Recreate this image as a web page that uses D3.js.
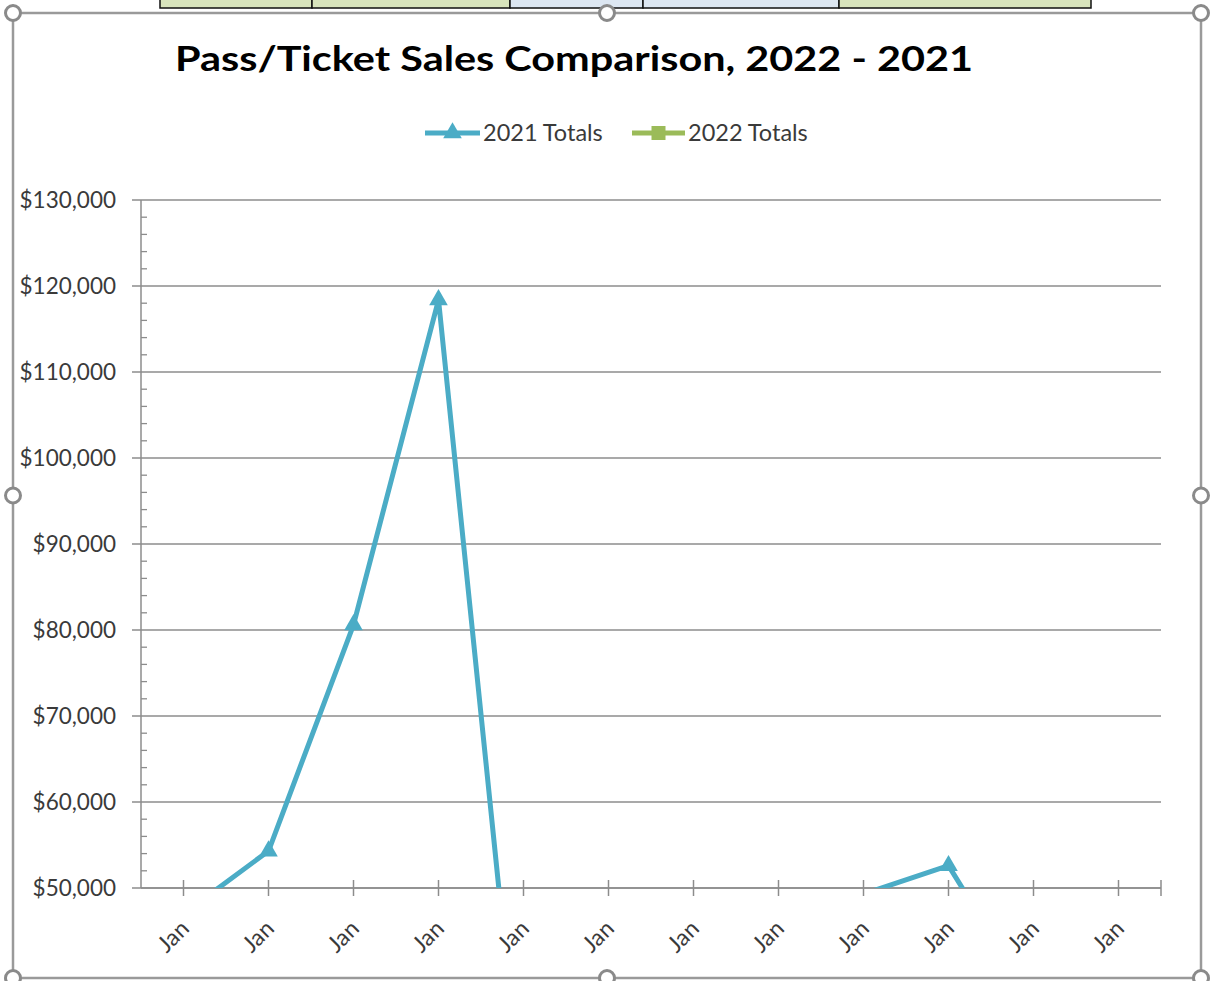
<!DOCTYPE html>
<html><head><meta charset="utf-8">
<script src="https://cdn.jsdelivr.net/npm/d3@7"></script>
<style>body{margin:0;background:#fff} svg{display:block}</style>
</head><body>
<svg id="c" width="1213" height="981"></svg>
<script>
// ---- data ----
const categories = ["Jan","Jan","Jan","Jan","Jan","Jan","Jan","Jan","Jan","Jan","Jan","Jan"];
const sales2021 = [47000, 54300, 80600, 118400, 22000, 15000, 12000, 14000, 49300, 52600, 36600, 30000];
const sales2022 = [21000, 26000, 31000, 28000, 19000, 14000, 11000, 13000, 24000, 30000, 25000, 22000];
const seriesNames = ["2021 Totals", "2022 Totals"];
const yTicks = [50000, 60000, 70000, 80000, 90000, 100000, 110000, 120000, 130000];
const titleText = "Pass/Ticket Sales Comparison, 2022 - 2021";
const sheetCells = [[160,312,"#d8e4bc"],[312,510,"#d8e4bc"],[510,643,"#dce6f1"],[643,839,"#dce6f1"],[839,1091,"#d8e4bc"]];

const svg = d3.select("#c");
const FONT = "Lato, 'Open Sans', sans-serif";
const plot = {l:141, r:1161, t:200, b:888};
const gridCol = "#8c8c8c";
const blue = "#4bacc6", green = "#9bbb59";
const yMin = 50000, yMax = 130000;

// spreadsheet cells above the chart
svg.selectAll("rect.cell").data(sheetCells).join("rect")
  .attr("x", d => d[0]).attr("y", -2).attr("width", d => d[1]-d[0]).attr("height", 10)
  .attr("fill", d => d[2]).attr("stroke", "#111").attr("stroke-width", 1.5);

// scales
const x = d3.scaleLinear().domain([-0.5, categories.length - 0.5]).range([plot.l, plot.r]);
const y = d3.scaleLinear().domain([yMin, yMax]).range([plot.b, plot.t]);

// gridlines
svg.append("g").selectAll("line").data(yTicks).join("line")
  .attr("x1", plot.l - 9).attr("x2", plot.r).attr("y1", d => y(d)).attr("y2", d => y(d))
  .attr("stroke", gridCol).attr("stroke-width", 1.5);

// y axis line + minor ticks
svg.append("line").attr("x1", plot.l).attr("x2", plot.l).attr("y1", plot.t).attr("y2", plot.b)
  .attr("stroke", gridCol).attr("stroke-width", 1.5);
const minor = d3.range(yMin, yMax + 1, 2000).filter(v => v % 10000 !== 0);
svg.append("g").selectAll("line").data(minor).join("line")
  .attr("x1", plot.l).attr("x2", plot.l + 6).attr("y1", d => y(d)).attr("y2", d => y(d))
  .attr("stroke", gridCol).attr("stroke-width", 1.3);

// y labels
svg.append("g").selectAll("text").data(yTicks).join("text")
  .attr("x", 116).attr("y", d => y(d)).attr("dy", "0.35em").attr("text-anchor", "end")
  .attr("font-family", FONT).attr("font-size", 22.5).attr("fill", "#3a3a3a")
  .text(d => d3.format("$,")(d));

// x axis line and ticks
svg.append("line").attr("x1", plot.l).attr("x2", plot.r).attr("y1", plot.b).attr("y2", plot.b)
  .attr("stroke", gridCol).attr("stroke-width", 1.5);
const xTickPos = categories.map((c, i) => x(i)).concat([x.range()[1]]);
svg.append("g").selectAll("line").data(xTickPos).join("line")
  .attr("x1", d => d).attr("x2", d => d).attr("y1", plot.b - 8).attr("y2", plot.b + 8)
  .attr("stroke", gridCol).attr("stroke-width", 1.5);

// x labels
svg.append("g").selectAll("text").data(categories).join("text")
  .attr("transform", (d, i) => `translate(${x(i) + 7},${930}) rotate(-45)`)
  .attr("text-anchor", "end")
  .attr("font-family", FONT).attr("font-size", 23).attr("fill", "#3a3a3a")
  .text(d => d);

// clip for plot area
svg.append("clipPath").attr("id", "pc").append("rect")
  .attr("x", plot.l).attr("y", plot.t - 20).attr("width", plot.r - plot.l).attr("height", plot.b - plot.t + 20);

const line = d3.line().x((d, i) => x(i)).y(d => y(d));
const gPlot = svg.append("g").attr("clip-path", "url(#pc)");
const inRange = v => v >= yMin && v <= yMax;

// 2022 series
gPlot.append("path").datum(sales2022).attr("d", line)
  .attr("fill", "none").attr("stroke", green).attr("stroke-width", 5).attr("stroke-linejoin", "round");
gPlot.append("g").selectAll("rect").data(sales2022.map((v, i) => ({v, i})).filter(d => inRange(d.v))).join("rect")
  .attr("x", d => x(d.i) - 6).attr("y", d => y(d.v) - 6).attr("width", 12).attr("height", 12)
  .attr("fill", green);

// 2021 series
gPlot.append("path").datum(sales2021).attr("d", line)
  .attr("fill", "none").attr("stroke", blue).attr("stroke-width", 5).attr("stroke-linejoin", "round");
const tri = d3.symbol().type(d3.symbolTriangle).size(150);
gPlot.append("g").selectAll("path").data(sales2021.map((v, i) => ({v, i})).filter(d => inRange(d.v))).join("path")
  .attr("transform", d => `translate(${x(d.i)},${y(d.v)})`)
  .attr("d", tri).attr("fill", blue);

// title
svg.append("text").attr("x", 175).attr("y", 71)
  .attr("font-family", FONT).attr("font-weight", "bold").attr("font-size", 34)
  .attr("fill", "#000").attr("textLength", 798).attr("lengthAdjust", "spacingAndGlyphs")
  .text(titleText);

// legend
const legend = [
  {name: seriesNames[0], color: blue, x0: 425, x1: 480, mk: "tri"},
  {name: seriesNames[1], color: green, x0: 632, x1: 685, mk: "sq"}
];
const lg = svg.append("g");
legend.forEach(L => {
  lg.append("line").attr("x1", L.x0).attr("x2", L.x1).attr("y1", 133).attr("y2", 133)
    .attr("stroke", L.color).attr("stroke-width", 5);
  const cx = (L.x0 + L.x1) / 2;
  if (L.mk === "tri") {
    lg.append("path").attr("transform", `translate(${cx},133)`).attr("d", tri).attr("fill", L.color);
  } else {
    lg.append("rect").attr("x", cx - 7).attr("y", 126).attr("width", 14).attr("height", 14).attr("fill", L.color);
  }
  lg.append("text").attr("x", L.x1 + 3).attr("y", 133).attr("dy", "0.35em")
    .attr("font-family", FONT).attr("font-size", 23.5).attr("fill", "#3a3a3a").text(L.name);
});

// selection frame + handles
const fr = {l:13, t:13, r:1201, b:978};
svg.append("rect").attr("x", fr.l).attr("y", fr.t).attr("width", fr.r - fr.l).attr("height", fr.b - fr.t)
  .attr("fill", "none").attr("stroke", "#9a9a9a").attr("stroke-width", 2.5);
const mx = (fr.l + fr.r) / 2, my = (fr.t + fr.b) / 2;
const handles = [[fr.l,fr.t],[mx,fr.t],[fr.r,fr.t],[fr.l,my],[fr.r,my],[fr.l,fr.b],[mx,fr.b],[fr.r,fr.b]];
svg.append("g").selectAll("circle").data(handles).join("circle")
  .attr("cx", d => d[0]).attr("cy", d => d[1]).attr("r", 7.5)
  .attr("fill", "#fff").attr("stroke", "#8a8a8a").attr("stroke-width", 3);
</script>
</body></html>
